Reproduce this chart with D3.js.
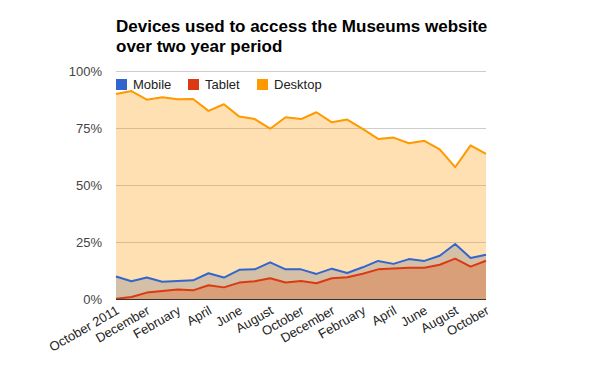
<!DOCTYPE html>
<html>
<head>
<meta charset="utf-8">
<script src="https://cdn.jsdelivr.net/npm/d3@7/dist/d3.min.js"></script>
<style>
  body { margin: 0; background: #fff; }
  svg { font-family: Arial, "Liberation Sans", sans-serif; }
</style>
</head>
<body>
<div id="vis"></div>
<script>
// months Oct 2011 .. Oct 2013
var months = ["October 2011", "November", "December", "January", "February", "March",
  "April", "May", "June", "July", "August", "September", "October", "November",
  "December", "January", "February", "March", "April", "May", "June", "July",
  "August", "September", "October"];

var mobile = [9.9, 7.8, 9.4, 7.6, 7.9, 8.2, 11.3, 9.4, 12.8, 13.0, 16.1, 13.0, 13.0,
  11.0, 13.3, 11.4, 13.9, 16.7, 15.4, 17.5, 16.7, 19.0, 24.1, 18.0, 19.4];
var tablet = [0.1, 0.9, 2.8, 3.5, 4.2, 3.8, 6.0, 5.1, 7.2, 7.8, 9.1, 7.2, 7.9,
  6.9, 9.1, 9.5, 11.1, 13.0, 13.4, 13.7, 13.7, 15.0, 17.7, 14.2, 16.8];
var desktop = [89.9, 91.2, 87.4, 88.5, 87.6, 87.7, 82.5, 85.4, 80.0, 78.9, 74.7, 79.7, 78.9,
  81.9, 77.5, 78.7, 74.6, 70.2, 70.8, 68.3, 69.4, 65.6, 57.8, 67.4, 63.6];

var yTicks = [0, 25, 50, 75, 100];

var series = [
  {name: "Mobile", values: mobile, color: "#3366cc"},
  {name: "Tablet", values: tablet, color: "#dc3912"},
  {name: "Desktop", values: desktop, color: "#ff9900"}
];

var width = 600, height = 371;
var plotLeft = 116, plotRight = 486, plotTop = 71, plotBottom = 299;

var svg = d3.select("#vis").append("svg")
  .attr("width", width).attr("height", height);

var x = d3.scaleLinear().domain([0, months.length - 1]).range([plotLeft, plotRight]);
var y = d3.scaleLinear().domain([0, 100]).range([plotBottom, plotTop]);

// title
svg.append("text").attr("x", 116).attr("y", 32)
  .style("font-size", "17px").style("font-weight", "bold").attr("fill", "#000")
  .text("Devices used to access the Museums website");
svg.append("text").attr("x", 116).attr("y", 52)
  .style("font-size", "17px").style("font-weight", "bold").attr("fill", "#000")
  .text("over two year period");

// gridlines
svg.selectAll(".grid").data(yTicks.filter(function(d) { return d > 0; })).enter()
  .append("line")
  .attr("class", "grid")
  .attr("x1", plotLeft).attr("x2", plotRight)
  .attr("y1", function(d) { return Math.round(y(d)) + 0.5; })
  .attr("y2", function(d) { return Math.round(y(d)) + 0.5; })
  .attr("stroke", "#ccc");

svg.selectAll(".ylab").data(yTicks).enter()
  .append("text")
  .attr("class", "ylab")
  .attr("x", plotLeft - 14)
  .attr("y", function(d) { return y(d); })
  .attr("dy", "0.35em")
  .attr("text-anchor", "end")
  .style("font-size", "13px")
  .attr("fill", "#444")
  .text(function(d) { return d + "%"; });

var area = d3.area()
  .x(function(d, i) { return x(i); })
  .y0(y(0))
  .y1(function(d) { return y(d); });

var line = d3.line()
  .x(function(d, i) { return x(i); })
  .y(function(d) { return y(d); });

svg.selectAll(".area").data(series).enter()
  .append("path")
  .attr("class", "area")
  .attr("d", function(s) { return area(s.values); })
  .attr("fill", function(s) { return s.color; })
  .attr("fill-opacity", 0.3);

svg.selectAll(".line").data(series).enter()
  .append("path")
  .attr("class", "line")
  .attr("d", function(s) { return line(s.values); })
  .attr("fill", "none")
  .attr("stroke", function(s) { return s.color; })
  .attr("stroke-width", 2)
  .attr("stroke-linejoin", "round");

// baseline
svg.append("line")
  .attr("x1", plotLeft).attr("x2", plotRight)
  .attr("y1", plotBottom + 0.5).attr("y2", plotBottom + 0.5)
  .attr("stroke", "#333");

// x labels, every other month
months.forEach(function(m, i) {
  if (i % 2) return;
  svg.append("text")
    .attr("class", "xlab")
    .attr("text-anchor", "end")
    .attr("transform", "translate(" + (x(i) + 4) + "," + (plotBottom + 14) + ") rotate(-30)")
    .style("font-size", "13px")
    .attr("fill", "#222")
    .text(m);
});

// legend
var legX = [116, 188, 257];
var leg = svg.selectAll(".leg").data(series).enter()
  .append("g")
  .attr("class", "leg")
  .attr("transform", function(s, i) { return "translate(" + legX[i] + ",79)"; });
leg.append("rect").attr("width", 11).attr("height", 11)
  .attr("fill", function(s) { return s.color; });
leg.append("text").attr("x", 17).attr("y", 10)
  .style("font-size", "13px").attr("fill", "#222")
  .text(function(s) { return s.name; });
</script>
</body>
</html>
